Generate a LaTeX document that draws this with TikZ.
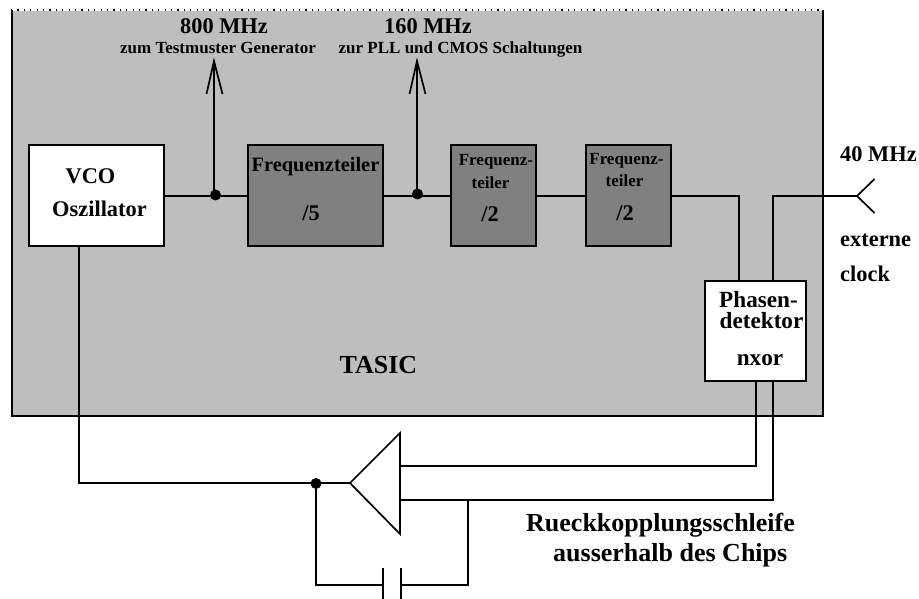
\documentclass[tikz,border=0pt]{standalone}
\usepackage{fontspec}
\setmainfont{Liberation Serif}[BoldFont={Liberation Serif Bold}]
\usetikzlibrary{calc}
\definecolor{chip}{HTML}{BEBEBE}
\definecolor{divider}{HTML}{808080}
\tikzset{
  x=1pt,y=-1pt,
  wire/.style={line width=2pt,line join=miter},
  thinwire/.style={line width=1.7pt,line join=miter},
  blockbox/.style={draw=black,line width=2pt,inner sep=0pt,outer sep=0pt,anchor=north west},
  vcobox/.style={blockbox,fill=white},
  divbox/.style={blockbox,fill=divider},
  dot/.style={circle,fill=black,inner sep=0pt,minimum size=11pt},
  lab/.style={inner sep=0pt,font=\bfseries,anchor=base},
  huge lab/.style={lab,font=\fontsize{22.4}{24}\selectfont\bfseries},
  large lab/.style={lab,font=\fontsize{26}{28}\selectfont\bfseries},
  big lab/.style={lab,font=\fontsize{22.4}{24}\selectfont\bfseries},
  pd lab/.style={lab,font=\fontsize{23.2}{25}\selectfont\bfseries},
  wide lab/.style={lab,font=\fontsize{20.4}{22}\selectfont\bfseries},
  mid lab/.style={lab,font=\fontsize{17}{19}\selectfont\bfseries},
  small lab/.style={lab,font=\fontsize{17}{19}\selectfont\bfseries},
}
\begin{document}
\begin{tikzpicture}
\useasboundingbox (0,0) rectangle (919,599);
% chip
\fill[chip] (11,11) rectangle (823,415);
\draw[line width=2pt] (12,10) -- (12,416) -- (823,416) -- (823,10);
\draw[line width=1.4pt,dash pattern=on 1.2pt off 5.2pt] (11,10) -- (823,10);
% blocks
\node[vcobox,minimum width=135pt,minimum height=101pt] (vco) at (29,145) {};
\node[divbox,minimum width=135pt,minimum height=101pt] (d5) at (248,145) {};
\node[divbox,minimum width=85pt,minimum height=101pt] (d2a) at (451,145) {};
\node[divbox,minimum width=85pt,minimum height=101pt] (d2b) at (586,145) {};
\node[vcobox,minimum width=101pt,minimum height=100pt] (pd) at (705,281) {};
% coordinates
\node[dot] (j1) at (215.5,195) {};
\node[dot] (j2) at (417.5,194) {};
\node[dot] (j3) at (316,483.5) {};
\coordinate (a1) at (214,61);
\coordinate (a2) at (417,61);
\coordinate (pin) at (857,196);
\coordinate (tri1) at (350,483);
\coordinate (tri2) at (400,433);
\coordinate (tri3) at (400,534);
% wires
\draw[wire] (vco.east |- 0,196) -- (d5.west |- 0,196);
\draw[wire] (d5.east |- 0,196) -- (d2a.west |- 0,196);
\draw[wire] (d2a.east |- 0,196) -- (d2b.west |- 0,196);
\draw[wire] (d2b.east |- 0,196) -- (739,196) -- (739,281);
\draw[wire] (773,281) -- (773,196) -- (pin);
\draw[thinwire] (874.5,179) -- (pin) -- (874.5,213);
\draw[wire] (214,195) -- (a1);
\draw[wire] (417,194) -- (a2);
\draw[thinwire] (206.5,94) -- (a1) -- (222.5,94);
\draw[thinwire] (409.5,94) -- (a2) -- (425.5,94);
\draw[wire] (79,246) -- (79,483) -- (tri1);
\draw[thinwire] (tri1) -- (tri2) -- (tri3) -- cycle;
\draw[wire] (tri2 |- 0,466) -- (756,466) -- (756,381);
\draw[wire] (tri2 |- 0,500) -- (773,500) -- (773,381);
\draw[wire] (j3) -- (316,585) -- (383,585);
\draw[wire] (468,500) -- (468,585) -- (401,585);
\draw[wire] (383,568) -- (383,599);
\draw[wire] (401,568) -- (401,599);
% labels
\node[huge lab] (f800) at (224,34) {800 MHz};
\node[small lab] (t800) at (218,54) {zum Testmuster Generator};
\node[huge lab] (f160) at (428,34) {160 MHz};
\node[small lab] (t160) at (460.5,54) {zur PLL und CMOS Schaltungen};
\node[big lab] (lv) at (90.5,183) {VCO};
\node[big lab] (lo) at (99.5,216.7) {Oszillator};
\node[wide lab] (l1) at (315.5,172) {Frequenzteiler};
\node[big lab] (l2) at (311,220) {/5};
\node[mid lab] (l3) at (496,166) {Frequenz-};
\node[mid lab] (l4) at (490.5,189) {teiler};
\node[big lab] (l5) at (490,221.7) {/2};
\node[mid lab] (l6) at (626.5,165) {Frequenz-};
\node[mid lab] (l7) at (624.5,186) {teiler};
\node[big lab] (l8) at (625,220) {/2};
\node[pd lab] (l9) at (758.5,307) {Phasen-};
\node[pd lab] (l10) at (761.5,328) {detektor};
\node[pd lab] (l11) at (760,365) {nxor};
\node[large lab] (tasic) at (378.5,373) {TASIC};
\node[huge lab,anchor=base west] (mhz) at (840,162) {40 MHz};
\node[big lab,anchor=base west] (ext) at (840,247) {externe};
\node[big lab,anchor=base west] (clk) at (840,281) {clock};
\node[large lab,anchor=base west] (r1) at (526,531) {Rueckkopplungsschleife};
\node[large lab,anchor=base west] (r2) at (553,561) {ausserhalb des Chips};
\end{tikzpicture}
\end{document}
